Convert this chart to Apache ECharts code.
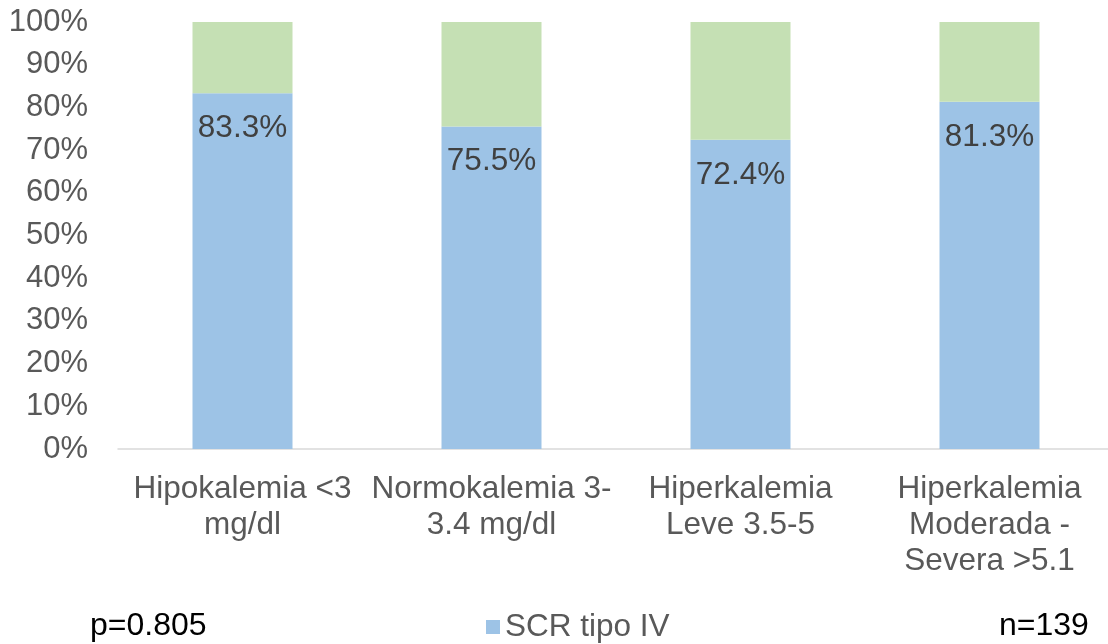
<!DOCTYPE html>
<html>
<head>
<meta charset="utf-8">
<script src="https://cdn.jsdelivr.net/npm/echarts@6/dist/echarts.min.js"></script>
<style>html,body{margin:0;padding:0;background:#fff;overflow:hidden}#c{width:1120px;height:644px}</style>
</head>
<body>
<div id="c"></div>
<script>
const categories = ['Hipokalemia <3\nmg/dl', 'Normokalemia 3-\n3.4 mg/dl', 'Hiperkalemia\nLeve 3.5-5', 'Hiperkalemia\nModerada -\nSevera >5.1'];
const scrTipoIV = [83.3, 75.5, 72.4, 81.3];
const otros = [16.7, 24.5, 27.6, 18.7];
const yTicks = [0, 10, 20, 30, 40, 50, 60, 70, 80, 90, 100];
const pText = 'p=0.805';
const nText = 'n=139';

const F = 'Liberation Sans, Arial, sans-serif';
const chart = echarts.init(document.getElementById('c'));
chart.setOption({
  animation: false,
  grid: { left: 118, top: 22, width: 996, bottom: 195, containLabel: false },
  legend: {
    data: ['SCR tipo IV'], left: 481, top: 606, itemWidth: 14, itemHeight: 14, itemGap: 5,
    icon: 'rect',
    textStyle: { fontFamily: F, fontSize: 31.5, color: '#595959' }
  },
  xAxis: {
    type: 'category', data: categories,
    axisLine: { lineStyle: { color: '#D9D9D9', width: 1.5 } },
    axisTick: { show: false },
    axisLabel: { fontFamily: F, fontSize: 31.5, color: '#595959', lineHeight: 36, margin: 22, interval: 0 }
  },
  yAxis: {
    type: 'value', min: 0, max: 100, interval: 10,
    axisLine: { show: false }, axisTick: { show: false }, splitLine: { show: false },
    axisLabel: { fontFamily: F, fontSize: 31, color: '#595959', margin: 30,
      formatter: v => yTicks.includes(v) ? v + '%' : '' }
  },
  series: [
    { name: 'SCR tipo IV', type: 'bar', stack: 't', data: scrTipoIV, barWidth: 100,
      itemStyle: { color: '#9DC3E6' },
      label: { show: true, position: 'insideTop', distance: 19, fontFamily: F, fontSize: 31.5, color: '#404040',
        formatter: p => p.value.toFixed(1) + '%' } },
    { name: 'Otros', type: 'bar', stack: 't', data: otros, barWidth: 100,
      itemStyle: { color: '#C5E0B4' } }
  ],
  graphic: [
    { type: 'text', left: 90, top: 610, style: { text: pText, fontFamily: F, fontSize: 32, fill: '#000' } },
    { type: 'text', left: 999, top: 610, style: { text: nText, fontFamily: F, fontSize: 32, fill: '#000' } }
  ]
});
</script>
</body>
</html>
